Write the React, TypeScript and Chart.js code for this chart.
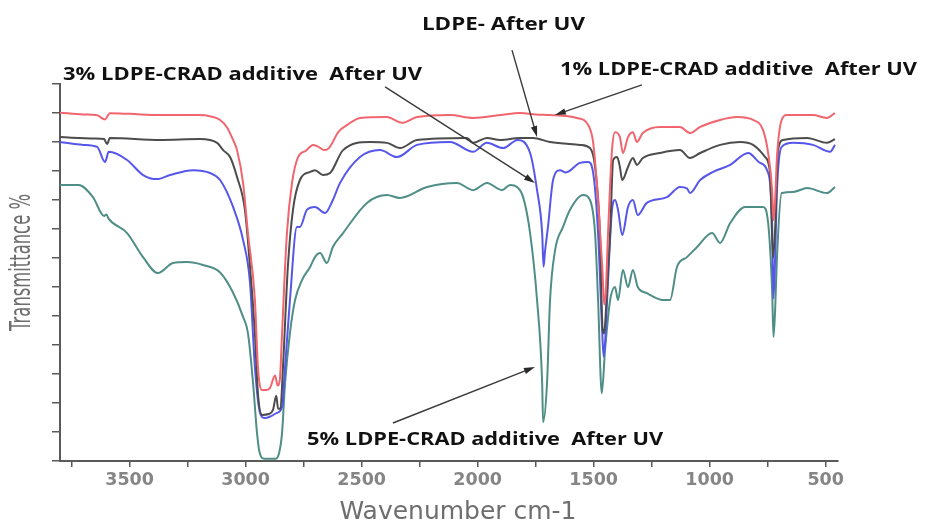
import React, { useEffect, useRef } from "react";
import { Chart, registerables } from "chart.js";

Chart.register(...registerables);

// ---- data (wavenumber cm-1, transmittance in axis-tick units) ----
const redWn = [3800, 3700, 3640, 3606, 3585, 3500, 3370, 3200, 3150, 3110, 3080, 3054, 3037, 3011, 2990, 2960, 2947, 2929, 2910, 2895, 2873, 2862, 2852, 2843, 2822, 2800, 2774, 2740, 2710, 2690, 2660, 2640, 2600, 2560, 2507, 2391, 2326, 2261, 2119, 2020, 1903, 1817, 1750, 1688, 1572, 1524, 1502, 1481, 1463, 1455, 1448, 1438, 1421, 1408, 1387, 1374, 1352, 1331, 1314, 1288, 1214, 1128, 1085, 1041, 955, 882, 813, 770, 748, 731, 725, 718, 710, 690, 668, 555, 495, 460];
const redT = [12.01, 11.95, 11.92, 11.78, 11.99, 11.97, 11.93, 11.93, 11.88, 11.76, 11.5, 11.07, 10.72, 9.59, 7.86, 5.55, 3.24, 2.45, 2.45, 2.52, 2.95, 2.6, 2.85, 4.41, 7.86, 9.59, 10.48, 10.7, 10.9, 10.85, 10.72, 10.8, 11.35, 11.6, 11.83, 11.86, 11.66, 11.86, 11.93, 11.83, 11.93, 12.0, 11.95, 11.93, 11.83, 11.59, 10.97, 9.0, 6.69, 5.4, 5.8, 7.86, 10.72, 11.34, 11.17, 10.62, 11.17, 11.34, 11.0, 11.31, 11.52, 11.52, 11.31, 11.52, 11.76, 11.86, 11.76, 11.41, 10.62, 9.34, 8.3, 9.0, 10.48, 11.76, 11.93, 11.93, 11.83, 12.0];

const blackWn = [3800, 3650, 3610, 3597, 3585, 3369, 3197, 3123, 3097, 3067, 3037, 3003, 2981, 2960, 2947, 2929, 2900, 2882, 2868, 2860, 2850, 2839, 2818, 2796, 2766, 2722, 2701, 2667, 2636, 2580, 2464, 2391, 2335, 2261, 2046, 2020, 1960, 1903, 1817, 1761, 1688, 1559, 1516, 1494, 1473, 1462, 1455, 1445, 1429, 1416, 1399, 1387, 1377, 1352, 1331, 1314, 1288, 1214, 1128, 1085, 1041, 955, 869, 813, 761, 740, 727, 718, 705, 684, 580, 495, 460];
const blackT = [11.17, 11.12, 11.1, 10.93, 11.14, 11.07, 11.1, 10.97, 10.72, 10.48, 9.79, 8.66, 6.69, 4.41, 2.34, 1.59, 1.62, 1.76, 2.25, 1.8, 1.8, 3.24, 6.69, 8.66, 9.69, 9.97, 10.03, 9.86, 9.93, 10.72, 11.0, 10.97, 10.79, 11.07, 11.14, 10.97, 11.14, 11.07, 11.14, 11.14, 11.0, 10.9, 10.79, 10.14, 7.86, 4.6, 4.4, 5.5, 7.86, 10.38, 10.48, 10.14, 9.69, 10.14, 10.45, 10.21, 10.45, 10.62, 10.72, 10.45, 10.62, 10.9, 11.0, 10.9, 10.48, 9.93, 7.0, 8.0, 10.72, 11.07, 11.14, 10.97, 11.1];

const blueWn = [3800, 3700, 3640, 3606, 3590, 3511, 3442, 3382, 3326, 3227, 3153, 3110, 3054, 3011, 2981, 2960, 2938, 2917, 2890, 2865, 2843, 2830, 2809, 2779, 2766, 2736, 2701, 2658, 2624, 2593, 2507, 2421, 2348, 2261, 2119, 2020, 1960, 1890, 1847, 1830, 1774, 1744, 1722, 1716, 1710, 1697, 1675, 1645, 1620, 1559, 1524, 1502, 1481, 1463, 1457, 1450, 1442, 1421, 1408, 1395, 1377, 1352, 1331, 1310, 1271, 1184, 1128, 1098, 1085, 1041, 985, 912, 834, 783, 753, 731, 725, 718, 710, 690, 640, 555, 481, 460];
const blueT = [11.0, 10.9, 10.83, 10.31, 10.66, 10.38, 9.86, 9.72, 9.86, 10.03, 9.93, 9.69, 8.76, 7.62, 6.14, 3.24, 1.66, 1.48, 1.55, 1.66, 1.86, 3.24, 5.55, 8.07, 8.07, 8.66, 8.76, 8.55, 9.0, 9.59, 10.48, 10.72, 10.48, 10.9, 11.0, 10.66, 10.97, 10.79, 11.0, 11.07, 10.62, 9.34, 7.86, 6.7, 7.2, 8.07, 9.69, 10.03, 9.95, 10.28, 10.31, 9.93, 7.86, 4.41, 3.6, 4.2, 5.55, 8.66, 9.0, 8.66, 7.79, 8.76, 9.0, 8.48, 8.9, 9.1, 9.45, 9.4, 9.24, 9.69, 9.97, 10.21, 10.62, 10.28, 10.03, 8.2, 5.6, 7.0, 9.34, 10.83, 10.97, 10.9, 10.66, 10.9];

const tealWn = [3800, 3720, 3658, 3610, 3600, 3590, 3511, 3442, 3378, 3313, 3253, 3184, 3110, 3054, 3011, 2990, 2968, 2951, 2940, 2920, 2870, 2855, 2843, 2830, 2809, 2787, 2757, 2722, 2700, 2679, 2650, 2624, 2580, 2477, 2391, 2335, 2218, 2089, 2020, 1960, 1895, 1860, 1830, 1804, 1774, 1744, 1722, 1718, 1701, 1688, 1666, 1632, 1602, 1546, 1516, 1494, 1481, 1465, 1451, 1429, 1408, 1395, 1374, 1352, 1331, 1310, 1271, 1201, 1171, 1141, 1098, 1054, 990, 955, 912, 847, 770, 748, 731, 725, 718, 710, 690, 640, 580, 495, 460];
const tealT = [9.52, 9.52, 9.1, 8.45, 8.5, 8.35, 7.86, 7.03, 6.48, 6.83, 6.86, 6.76, 6.5, 5.8, 4.97, 4.41, 2.69, 0.97, 0.3, 0.08, 0.08, 0.3, 0.97, 2.69, 4.41, 5.55, 6.24, 6.69, 7.05, 7.17, 6.83, 7.38, 7.86, 8.9, 9.17, 9.07, 9.45, 9.59, 9.34, 9.59, 9.34, 9.52, 9.45, 9.1, 7.86, 5.55, 2.69, 1.34, 2.69, 5.55, 7.28, 8.07, 8.66, 9.17, 9.0, 7.86, 5.55, 2.34, 3.83, 5.55, 6.0, 5.55, 6.59, 6.0, 6.59, 6.0, 5.79, 5.55, 5.55, 6.69, 7.03, 7.38, 7.86, 7.52, 8.2, 8.76, 8.76, 8.2, 5.9, 4.28, 5.2, 7.03, 9.24, 9.28, 9.41, 9.24, 9.45];

const seriesLabels = [
  "1% LDPE-CRAD additive  After UV",
  "LDPE-  After UV",
  "3% LDPE-CRAD additive  After UV",
  "5% LDPE-CRAD additive  After UV",
];

const xTickValues = [3750, 3500, 3250, 3000, 2750, 2500, 2250, 2000, 1750, 1500, 1250, 1000, 750, 500];
const xLabeledTicks = [3500, 3000, 2500, 2000, 1500, 1000, 500];
const yTickValues = [0, 1, 2, 3, 4, 5, 6, 7, 8, 9, 10, 11, 12, 13];

// annotation texts (anchored in data coordinates)
const noteTexts = [
  "3% LDPE-CRAD additive  After UV",
  "LDPE- After UV",
  "1% LDPE-CRAD additive  After UV",
  "5% LDPE-CRAD additive  After UV",
];

const noteLayout = [
  { wn: 3787, t: 13.31, w: 359 },
  { wn: 2240, t: 15.03, w: 163 },
  { wn: 1645, t: 13.48, w: 357 },
  { wn: 2735, t: 0.72, w: 356 },
];

// arrows: tail -> head in data coordinates
const arrowLayout = [
  { x0: 2399, y0: 12.9, x1: 1753, y1: 9.59 },
  { x0: 1852, y0: 14.17, x1: 1744, y1: 11.17 },
  { x0: 1292, y0: 12.97, x1: 1667, y1: 11.93 },
  { x0: 2365, y0: 1.31, x1: 1753, y1: 3.24 },
];

const toPoints = (wn: number[], t: number[]) => wn.map((w, i) => ({ x: w, y: t[i] }));

const overlayPlugin = {
  id: "overlay",
  afterDraw(chart: any) {
    const { ctx, scales, chartArea } = chart;
    const xs = scales.x;
    const ys = scales.y;
    ctx.save();
    // arrows
    ctx.strokeStyle = "#3a3a3a";
    ctx.fillStyle = "#2a2a2a";
    ctx.lineWidth = 1.4;
    arrowLayout.forEach((a) => {
      const x0 = xs.getPixelForValue(a.x0);
      const y0 = ys.getPixelForValue(a.y0);
      const x1 = xs.getPixelForValue(a.x1);
      const y1 = ys.getPixelForValue(a.y1);
      const ang = Math.atan2(y1 - y0, x1 - x0);
      const hl = 11;
      const hw = 3.2;
      ctx.beginPath();
      ctx.moveTo(x0, y0);
      ctx.lineTo(x1 - Math.cos(ang) * hl * 0.6, y1 - Math.sin(ang) * hl * 0.6);
      ctx.stroke();
      ctx.beginPath();
      ctx.moveTo(x1, y1);
      ctx.lineTo(
        x1 - Math.cos(ang) * hl - Math.sin(ang) * hw,
        y1 - Math.sin(ang) * hl + Math.cos(ang) * hw
      );
      ctx.lineTo(
        x1 - Math.cos(ang) * hl + Math.sin(ang) * hw,
        y1 - Math.sin(ang) * hl - Math.cos(ang) * hw
      );
      ctx.closePath();
      ctx.fill();
    });
    // annotation texts
    ctx.fillStyle = "#111111";
    ctx.font = "bold 18px 'Open Sans'";
    ctx.textBaseline = "middle";
    ctx.textAlign = "left";
    noteTexts.forEach((txt, i) => {
      const L = noteLayout[i];
      const px = xs.getPixelForValue(L.wn);
      const py = ys.getPixelForValue(L.t);
      const m = ctx.measureText(txt).width;
      const sx = L.w / m;
      ctx.save();
      ctx.translate(px, py);
      ctx.scale(sx, 1);
      ctx.fillText(txt, 0, 0);
      ctx.restore();
    });
    // axis titles
    ctx.fillStyle = "#6e6e6e";
    ctx.textAlign = "center";
    ctx.font = "24px 'DejaVu Sans'";
    const xt = "Wavenumber cm-1";
    const xm = ctx.measureText(xt).width;
    ctx.save();
    ctx.translate((chartArea.left + chartArea.right) / 2 + 9, chartArea.bottom + 52);
    ctx.scale(237 / xm, 1);
    ctx.fillText(xt, 0, 0);
    ctx.restore();
    const yt = "Transmittance %";
    ctx.font = "29px 'DejaVu Sans'";
    const ym = ctx.measureText(yt).width;
    ctx.save();
    ctx.translate(chartArea.left - 38, (chartArea.top + chartArea.bottom) / 2 - 10);
    ctx.rotate(-Math.PI / 2);
    ctx.scale(137 / ym, 1);
    ctx.fillText(yt, 0, 0);
    ctx.restore();
    ctx.restore();
  },
};

export default function App() {
  const ref = useRef<HTMLCanvasElement | null>(null);
  useEffect(() => {
    if (!ref.current) return;
    const chart = new Chart(ref.current, {
      type: "line",
      data: {
        datasets: [
          { label: seriesLabels[0], data: toPoints(redWn, redT), borderColor: "#f0656e" },
          { label: seriesLabels[1], data: toPoints(blackWn, blackT), borderColor: "#4c4c4c" },
          { label: seriesLabels[2], data: toPoints(blueWn, blueT), borderColor: "#5656ea" },
          { label: seriesLabels[3], data: toPoints(tealWn, tealT), borderColor: "#4f8e86" },
        ].map((d) => ({
          ...d,
          borderWidth: 2,
          pointRadius: 0,
          cubicInterpolationMode: "monotone",
          fill: false,
        })),
      },
      options: {
        responsive: false,
        animation: false,
        layout: { padding: { top: 84, right: 87, left: 0, bottom: 0 } },
        plugins: { legend: { display: false }, tooltip: { enabled: false } },
        events: [],
        scales: {
          x: {
            type: "linear",
            reverse: true,
            min: 447,
            max: 3800,
            afterFit: (s: any) => {
              s.height = 61;
            },
            afterBuildTicks: (s: any) => {
              s.ticks = xTickValues.map((v) => ({ value: v }));
            },
            ticks: {
              autoSkip: false,
              maxRotation: 0,
              padding: 3,
              color: "#858585",
              font: { family: "'DejaVu Sans'", size: 17.5, weight: "bold" },
              callback: (v: any) => (xLabeledTicks.includes(Number(v)) ? String(v) : ""),
            },
            grid: {
              display: true,
              drawOnChartArea: false,
              drawTicks: true,
              tickLength: 6,
              color: "#5a5a5a",
              lineWidth: 1.5,
            },
            border: { display: true, color: "#5a5a5a", width: 2 },
          },
          y: {
            type: "linear",
            min: 0,
            max: 13,
            afterFit: (s: any) => {
              s.width = 60;
            },
            afterBuildTicks: (s: any) => {
              s.ticks = yTickValues.map((v) => ({ value: v }));
            },
            ticks: { display: false },
            grid: {
              display: true,
              drawOnChartArea: false,
              drawTicks: true,
              tickLength: 8,
              color: "#5a5a5a",
              lineWidth: 1.5,
            },
            border: { display: true, color: "#5a5a5a", width: 2 },
          },
        },
      },
      plugins: [overlayPlugin],
    } as any);
    return () => chart.destroy();
  }, []);
  return (
    <div style={{ position: "absolute", left: 0, top: 0, width: 925, height: 522, background: "#fff" }}>
      <canvas ref={ref} width={925} height={522} style={{ display: "block" }} />
    </div>
  );
}
